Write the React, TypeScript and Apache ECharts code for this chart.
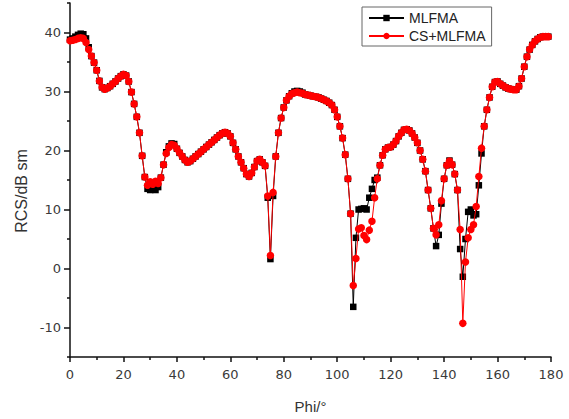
import React, { useEffect, useRef } from "react";
import * as echarts from "echarts";

// Phi sampling (degrees)
const PHI_START = 0;
const PHI_STEP = 1;

// Axis ticks
const X_MIN = 0;
const X_MAX = 180;
const X_INTERVAL = 20;
const Y_MIN = -15;
const Y_MAX = 45;
const Y_MAJOR = [-10, 0, 10, 20, 30, 40];
const Y_MINOR = [-15, -5, 5, 15, 25, 35, 45];

// MLFMA (black squares), Phi = 0..59, 60..119, 120..179
const MLFMA_A = [
  38.8, 39.0, 39.3, 39.6, 39.8, 39.7, 39.0, 37.5, 36.0, 34.9,
  33.6, 31.8, 30.7, 30.4, 30.6, 30.9, 31.3, 31.7, 32.2, 32.6,
  32.9, 32.7, 31.7, 29.9, 27.9, 25.7, 23.0, 19.1, 15.5, 13.5,
  13.3, 14.0, 13.3, 13.8, 15.4, 17.6, 19.7, 20.7, 21.2, 21.1,
  20.3, 19.6, 19.0, 18.4, 18.0, 18.2, 18.6, 19.0, 19.4, 19.8,
  20.2, 20.6, 21.0, 21.4, 21.8, 22.2, 22.6, 22.9, 23.1, 22.9,
];
const MLFMA_B = [
  22.4, 21.3, 20.2, 19.0, 18.0, 17.0, 16.0, 15.6, 16.2, 17.2,
  18.2, 18.5, 18.0, 17.4, 12.0, 1.6, 12.3, 19.0, 23.0, 25.5,
  27.3, 28.5, 29.2, 29.7, 30.0, 30.1, 30.0, 29.8, 29.5, 29.4,
  29.3, 29.2, 29.1, 29.0, 28.8, 28.6, 28.4, 28.1, 27.7, 26.9,
  25.7, 24.1, 22.1, 19.3, 15.2, 9.3, -6.5, 5.2, 10.0, 10.1,
  10.2, 10.0, 12.0, 13.5, 15.0, 15.4, 17.5, 19.2, 20.2, 20.5,
];
const MLFMA_C = [
  20.6, 21.0, 21.6, 22.4, 23.0, 23.5, 23.6, 23.4, 22.9, 22.2,
  21.3, 20.0, 18.5, 16.5, 13.3, 10.2, 6.8, 3.8, 5.7, 11.0,
  15.2, 17.5, 18.3, 17.6, 16.0, 13.3, 3.3, -1.4, 5.0, 9.6,
  10.0, 9.0, 9.2, 14.1, 19.5, 24.1, 26.9, 29.0, 30.8, 31.6,
  31.7, 31.3, 31.0, 30.7, 30.5, 30.4, 30.3, 30.3, 30.9, 32.2,
  34.2, 35.9, 37.1, 37.9, 38.5, 38.9, 39.2, 39.3, 39.3, 39.3,
];

// CS+MLFMA (red circles), Phi = 0..59, 60..119, 120..179
const CS_A = [
  38.6, 38.7, 38.8, 39.0, 39.1, 39.0, 38.3, 37.1, 36.0, 34.9,
  33.6, 31.8, 30.7, 30.4, 30.6, 30.9, 31.3, 31.7, 32.2, 32.6,
  32.9, 32.7, 31.7, 29.9, 27.9, 25.7, 23.0, 19.1, 15.5, 14.1,
  14.7, 14.3, 14.8, 14.4, 15.4, 17.6, 19.5, 20.5, 21.0, 20.9,
  20.3, 19.6, 19.0, 18.4, 18.0, 18.2, 18.6, 19.0, 19.4, 19.8,
  20.2, 20.6, 21.0, 21.4, 21.8, 22.2, 22.6, 22.9, 23.1, 22.9,
];
const CS_B = [
  22.4, 21.3, 20.2, 19.0, 18.0, 17.0, 16.0, 15.6, 16.2, 17.2,
  18.2, 18.5, 18.0, 17.4, 12.3, 2.2, 12.9, 19.0, 23.0, 25.5,
  27.3, 28.5, 29.2, 29.6, 29.8, 29.9, 29.8, 29.7, 29.5, 29.4,
  29.3, 29.2, 29.1, 29.0, 28.8, 28.6, 28.4, 28.1, 27.7, 26.9,
  25.7, 24.1, 22.1, 19.3, 15.2, 9.3, -2.9, 1.7, 6.7, 6.9,
  5.6, 4.9, 6.5, 8.0, 12.0, 15.2, 17.5, 19.2, 20.2, 20.5,
];
const CS_C = [
  20.6, 21.0, 21.6, 22.4, 23.0, 23.5, 23.6, 23.4, 22.9, 22.2,
  21.3, 20.0, 18.5, 16.5, 13.3, 10.2, 6.8, 5.7, 7.4, 11.5,
  15.2, 17.5, 18.2, 17.6, 16.0, 13.3, 6.6, -9.3, 1.1, 5.2,
  6.6, 7.4, 10.5, 15.6, 20.4, 24.1, 26.9, 29.0, 30.8, 31.6,
  31.7, 31.3, 31.0, 30.7, 30.5, 30.4, 30.3, 30.3, 30.9, 32.2,
  34.2, 35.9, 37.1, 37.9, 38.5, 38.9, 39.2, 39.3, 39.3, 39.3,
];

const SERIES_NAMES = ["MLFMA", "CS+MLFMA"];
const X_NAME = "Phi/°";
const Y_NAME = "RCS/dB sm";

const SANS = "'Liberation Sans', Arial, sans-serif";
const TICK_FONT = "'DejaVu Sans', 'Liberation Sans', sans-serif";

const toPairs = (vals: number[]) =>
  vals.map((v, i) => [PHI_START + i * PHI_STEP, v]);

export default function App() {
  const ref = useRef<HTMLDivElement>(null);

  useEffect(() => {
    document.body.style.margin = "0";
    if (!ref.current) return;
    const chart = echarts.init(ref.current, undefined, { renderer: "svg" });

    const mlfma = toPairs([...MLFMA_A, ...MLFMA_B, ...MLFMA_C]);
    const cs = toPairs([...CS_A, ...CS_B, ...CS_C]);

    const axisColor = "#111";
    const labelColor = "#3a3a3a";

    chart.setOption({
      animation: false,
      backgroundColor: "#ffffff",
      grid: { left: 70, right: 18, top: 3, bottom: 56, containLabel: false },
      legend: {
        orient: "vertical",
        left: 362,
        top: 7,
        padding: [4, 6, 3, 6],
        itemGap: 4,
        itemWidth: 35,
        itemHeight: 8,
        borderColor: "#666",
        borderWidth: 1,
        backgroundColor: "#fff",
        textStyle: { fontFamily: SANS, fontSize: 14, color: "#222" },
        data: SERIES_NAMES,
      },
      xAxis: {
        type: "value",
        min: X_MIN,
        max: X_MAX,
        interval: X_INTERVAL,
        name: X_NAME,
        nameLocation: "middle",
        nameGap: 42,
        nameTextStyle: { fontFamily: SANS, fontSize: 15, color: "#333" },
        axisLine: { show: true, onZero: false, lineStyle: { color: axisColor, width: 1.5 } },
        axisTick: { show: true, inside: false, length: 5, lineStyle: { color: axisColor, width: 1.5 } },
        minorTick: { show: true, splitNumber: 2, length: 3, lineStyle: { color: axisColor, width: 1.5 } },
        axisLabel: { margin: 11, fontFamily: TICK_FONT, fontSize: 13, color: labelColor },
        splitLine: { show: false },
      },
      yAxis: [
        {
          type: "value",
          min: Y_MIN,
          max: Y_MAX,
          position: "left",
          axisLine: { show: true, onZero: false, lineStyle: { color: axisColor, width: 1.5 } },
          axisTick: {
            show: true,
            inside: false,
            length: 6,
            customValues: Y_MAJOR,
            lineStyle: { color: axisColor, width: 1.5 },
          },
          axisLabel: {
            margin: 9,
            customValues: Y_MAJOR,
            fontFamily: TICK_FONT,
            fontSize: 13,
            color: labelColor,
          },
          splitLine: { show: false },
        },
        {
          type: "value",
          min: Y_MIN,
          max: Y_MAX,
          position: "left",
          axisLine: { show: false },
          axisTick: {
            show: true,
            inside: false,
            length: 3,
            customValues: Y_MINOR,
            lineStyle: { color: axisColor, width: 1.5 },
          },
          axisLabel: { show: false },
          splitLine: { show: false },
        },
      ],
      series: [
        {
          name: SERIES_NAMES[0],
          type: "line",
          data: mlfma,
          yAxisIndex: 0,
          symbol: "rect",
          symbolSize: 6.5,
          showAllSymbol: true,
          color: "#000",
          lineStyle: { color: "#000", width: 1 },
          itemStyle: { color: "#000" },
          z: 2,
        },
        {
          name: SERIES_NAMES[1],
          type: "line",
          data: cs,
          yAxisIndex: 0,
          symbol: "circle",
          symbolSize: 7.5,
          showAllSymbol: true,
          color: "#ff0000",
          lineStyle: { color: "#ff0000", width: 1 },
          itemStyle: { color: "#ff0000" },
          z: 3,
        },
      ],
      graphic: [
        {
          type: "text",
          x: 21,
          y: 191,
          rotation: Math.PI / 2,
          style: {
            text: Y_NAME,
            fontFamily: SANS,
            fontSize: 16,
            fill: "#333",
            textAlign: "center",
            textVerticalAlign: "middle",
          },
        },
      ],
    });

    return () => chart.dispose();
  }, []);

  return <div ref={ref} style={{ width: 569, height: 419 }} />;
}
